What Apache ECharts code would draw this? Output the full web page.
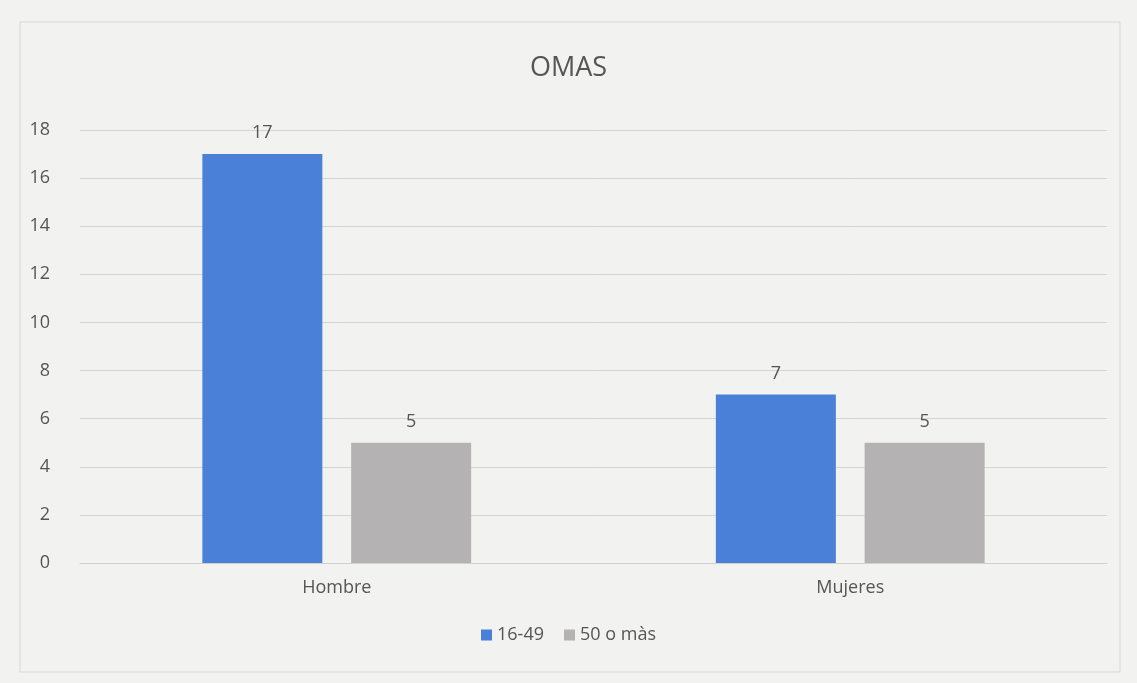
<!DOCTYPE html>
<html>
<head>
<meta charset="utf-8">
<title>OMAS</title>
<script src="https://cdn.jsdelivr.net/npm/echarts@6/dist/echarts.min.js"></script>
<style>
  html, body { margin: 0; padding: 0; background: #eeeeec; }
  #chart { width: 1137px; height: 683px; }
</style>
</head>
<body>
<div id="chart"></div>
<script>
// datos del gráfico
const categories = ["Hombre", "Mujeres"];
const seriesNames = ["16-49", "50 o màs"];
const jovenes = [17, 7];
const mayores = [5, 5];
const yTicks = [0, 2, 4, 6, 8, 10, 12, 14, 16, 18];

const chart = echarts.init(document.getElementById("chart"));

let option = {
  backgroundColor: "#f2f2f0",
  textStyle: { fontFamily: "Open Sans, Lato, sans-serif" },
  title: {
    text: "OMAS",
    left: "center",
    top: 50,
    textStyle: { fontSize: 27, fontWeight: "normal", color: "#555" }
  },
  legend: {
    bottom: 34,
    left: "center",
    itemWidth: 11,
    itemHeight: 11,
    itemGap: 20,
    icon: "rect",
    textStyle: { fontSize: 18, color: "#555" },
    data: seriesNames
  },
  grid: {
    left: 80,
    right: 30,
    top: 130,
    bottom: 120
  },
  xAxis: {
    type: "category",
    data: categories,
    axisLine: { lineStyle: { color: "#d0d0d0" } },
    axisTick: { show: false },
    axisLabel: { color: "#555", fontSize: 18, margin: 16 }
  },
  yAxis: {
    type: "value",
    min: yTicks[0],
    max: yTicks[yTicks.length - 1],
    interval: 2,
    axisLine: { show: false },
    axisTick: { show: false },
    axisLabel: { color: "#555", fontSize: 18, margin: 30 },
    splitLine: { lineStyle: { color: "#d4d4d4" } }
  },
  series: [
    {
      name: seriesNames[0],
      type: "bar",
      data: jovenes,
      barWidth: 120,
      barGap: "24%",
      itemStyle: { color: "#4a80d8" },
      label: { show: true, position: "top", distance: 12, color: "#555", fontSize: 18 }
    },
    {
      name: seriesNames[1],
      type: "bar",
      data: mayores,
      barWidth: 120,
      itemStyle: { color: "#b4b2b2" },
      label: { show: true, position: "top", distance: 12, color: "#555", fontSize: 18 }
    }
  ],
  graphic: [
    {
      type: "rect",
      shape: { x: 20, y: 22, width: 1100, height: 650 },
      style: { fill: "none", stroke: "#d8d8d8", lineWidth: 1 },
      silent: true
    }
  ]
};

chart.setOption(option);
</script>
</body>
</html>
